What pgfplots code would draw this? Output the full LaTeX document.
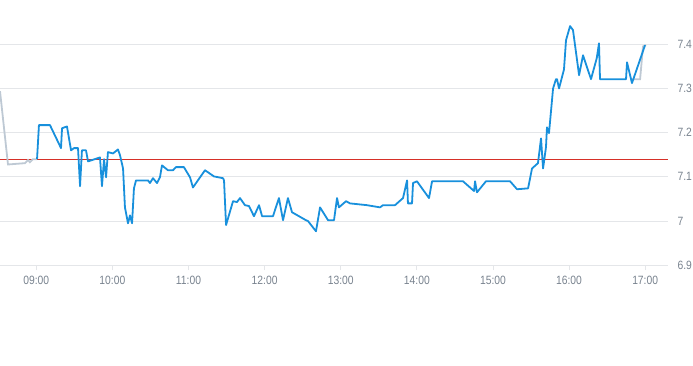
\documentclass[border=0pt]{standalone}
\usepackage{pgfplots}
\pgfplotsset{compat=1.18}
\usepackage{fontspec}
\setmainfont{Liberation Sans}[FakeStretch=0.86]
\definecolor{lineblue}{RGB}{24,144,220}
\definecolor{premkt}{RGB}{190,201,212}
\definecolor{gridc}{RGB}{228,230,233}
\definecolor{labc}{RGB}{120,130,142}
\definecolor{refred}{RGB}{214,48,40}
\begin{document}
\begin{tikzpicture}
\path[use as bounding box] (0,0) rectangle (693pt,-365pt);
\begin{axis}[
  at={(0,0)}, anchor=north west,
  scale only axis, width=668pt, height=265.3pt,
  xmin=511.4, xmax=1038, ymin=6.9, ymax=7.5,
  axis line style={draw=none},
  xtick={540,600,660,720,780,840,900,960,1020},
  xticklabels={09:00,10:00,11:00,12:00,13:00,14:00,15:00,16:00,17:00},
  ytick={6.9,7.0,7.1,7.2,7.3,7.4},
  yticklabels={6.9,7,7.1,7.2,7.3,7.4},
  yticklabel pos=right,
  ymajorgrids, major grid style={draw=gridc, line width=0.8pt},
  extra y ticks={7.14},
  extra y tick labels={},
  extra y tick style={grid=major, major grid style={draw=refred, line width=1.2pt}, tick style={draw=none}},
  tick align=outside, major tick length=5pt,
  xtick style={draw=gridc, line width=0.8pt},
  ytick style={draw=none},
  ticklabel style={font=\fontsize{12}{14}\selectfont, text=labc},
  xticklabel style={yshift=-2pt},
  yticklabel style={anchor=west, xshift=1pt},
  clip=true,
]
\addplot[color=premkt, mark=none, line width=1.8pt] coordinates {
(511.4,7.294) (517.7,7.128) (531.1,7.131) (533.5,7.138) (535.0,7.133) (537.4,7.140) (540.6,7.140)
};
\addplot[color=premkt, mark=none, line width=1.8pt] coordinates {
(1008.8,7.321) (1016.0,7.321) (1018.3,7.395) (1020.7,7.398)
};
\addplot[color=lineblue, mark=none, line width=1.8pt, line join=round] coordinates {
(540.6,7.140) (542.1,7.217) (550.8,7.217) (559.5,7.165) (560.3,7.210) (564.2,7.214)
(567.4,7.160) (569.7,7.165) (572.9,7.165) (574.5,7.079) (576.0,7.160) (579.2,7.160)
(580.8,7.135) (590.2,7.144) (591.8,7.079) (593.4,7.140) (595.0,7.099) (596.5,7.156)
(600.5,7.153) (604.4,7.162) (606.0,7.149) (608.4,7.119) (609.9,7.031) (612.3,6.995)
(613.9,7.013) (615.5,6.995) (617.0,7.074) (618.6,7.092) (628.1,7.092) (629.6,7.086)
(632.0,7.097) (635.2,7.086) (637.5,7.099) (639.1,7.126) (643.8,7.115) (647.8,7.115)
(650.1,7.122) (656.4,7.122) (661.2,7.099) (663.5,7.076) (673.0,7.115) (680.1,7.101)
(687.2,7.097) (688.0,7.092) (689.6,6.991) (695.1,7.045) (698.2,7.043) (700.6,7.052)
(704.5,7.036) (707.7,7.034) (711.6,7.011) (715.6,7.036) (718.0,7.011) (726.6,7.011)
(731.3,7.052) (734.5,7.002) (738.4,7.052) (741.6,7.020) (752.6,7.002) (754.2,7.000)
(760.5,6.977) (763.7,7.031) (770.0,7.002) (774.7,7.002) (777.1,7.052) (778.6,7.031)
(784.2,7.045) (787.3,7.040) (800.7,7.036) (811.0,7.031) (813.3,7.036) (822.8,7.036)
(829.1,7.052) (832.3,7.092) (833.0,7.040) (836.2,7.040) (837.0,7.086) (840.1,7.090)
(849.6,7.052) (852.0,7.090) (876.4,7.090) (885.1,7.068) (885.9,7.090) (887.4,7.065)
(894.5,7.090) (913.5,7.090) (919.0,7.072) (927.7,7.074) (930.8,7.119) (935.5,7.131)
(937.9,7.187) (939.5,7.119) (941.8,7.167) (942.6,7.212) (944.2,7.199) (947.4,7.300)
(949.7,7.321) (950.5,7.321) (952.1,7.300) (956.0,7.343) (957.6,7.409) (960.8,7.441)
(963.1,7.432) (967.9,7.330) (971.0,7.375) (977.3,7.321) (981.8,7.368) (983.6,7.402)
(984.4,7.321) (1004.9,7.321) (1005.7,7.359) (1009.6,7.312) (1019.9,7.398)
};
\end{axis}
\end{tikzpicture}
\end{document}
